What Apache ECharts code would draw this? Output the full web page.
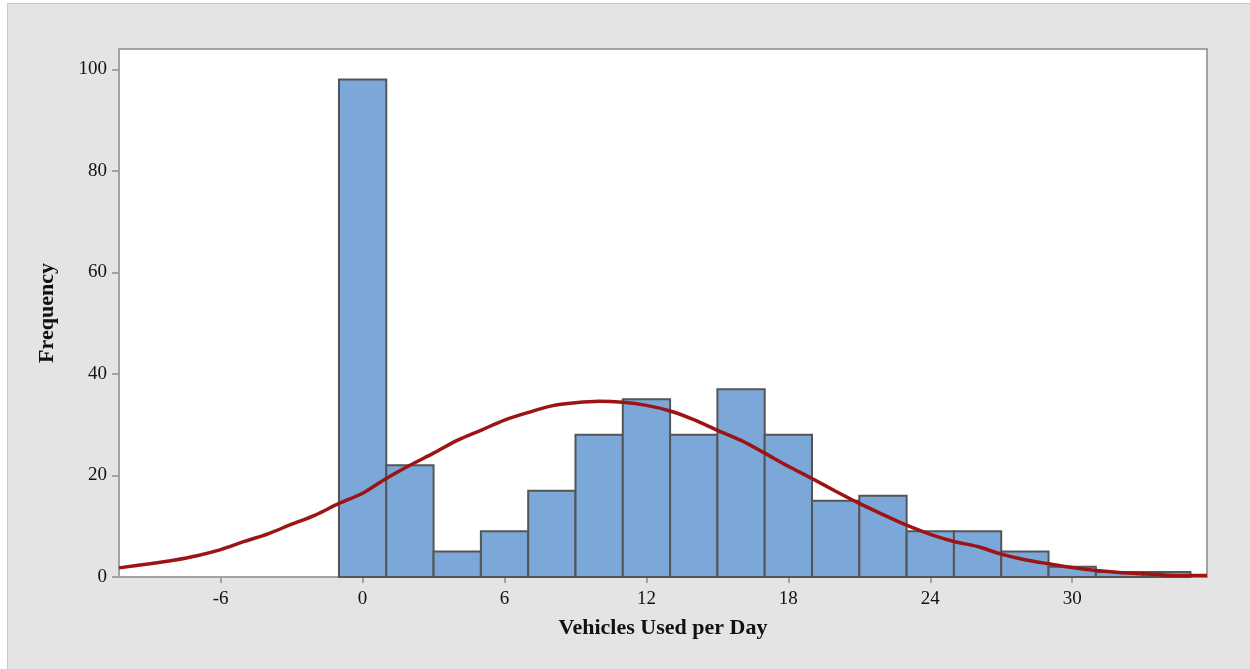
<!DOCTYPE html>
<html>
<head>
<meta charset="utf-8">
<title>Vehicles Used per Day</title>
<script src="https://cdn.jsdelivr.net/npm/echarts@6/dist/echarts.min.js"></script>
<style>
  html, body { margin: 0; padding: 0; background: #ffffff; }
  #chart { width: 1250px; height: 669px; }
</style>
</head>
<body>
<div id="chart"></div>
<script>
// ---- histogram bins (centre of each bin, width 2) ----
const binCenters = [0, 2, 4, 6, 8, 10, 12, 14, 16, 18, 20, 22, 24, 26, 28, 30, 32, 34];
const binCounts = [98, 22, 5, 9, 17, 28, 35, 28, 37, 28, 15, 16, 9, 9, 5, 2, 1, 1];
const binWidth = 2;

// ---- fitted curve ----
const curveX = [-10.3, -9, -8, -7, -6, -5, -4, -3, -2, -1, 0, 1, 2, 3, 4, 5, 6, 7, 8, 9, 10, 11, 12,
  13, 14, 15, 16, 17, 18, 19, 20, 21, 22, 23, 24, 25, 26, 27, 28, 29, 30, 31, 32, 33, 34, 35, 35.7];
const curveY = [1.8, 2.6, 3.3, 4.2, 5.4, 7.0, 8.5, 10.4, 12.2, 14.5, 16.5, 19.4, 22.0, 24.4, 26.9, 28.9,
  30.9, 32.4, 33.7, 34.3, 34.6, 34.4, 33.8, 32.7, 31.0, 28.9, 26.9, 24.4, 21.8, 19.4, 16.9, 14.5, 12.3,
  10.2, 8.4, 7.0, 6.0, 4.5, 3.4, 2.6, 1.85, 1.3, 0.9, 0.65, 0.35, 0.3, 0.3];

// ---- axis ticks ----
const xTicks = [-6, 0, 6, 12, 18, 24, 30];
const yTicks = [0, 20, 40, 60, 80, 100];

const FONT = '"Liberation Serif", "DejaVu Serif", serif';
const FRAME = '#a2a2a2';

const chart = echarts.init(document.getElementById('chart'));

const barData = binCenters.map((c, i) => [c - binWidth / 2, c + binWidth / 2, binCounts[i]]);
const lineData = curveX.map((x, i) => [x, curveY[i]]);

function renderBin(params, api) {
  const p0 = api.coord([api.value(0), api.value(2)]);
  const p1 = api.coord([api.value(1), 0]);
  return {
    type: 'rect',
    shape: { x: p0[0], y: p0[1], width: p1[0] - p0[0], height: p1[1] - p0[1] },
    style: { fill: '#7ba7d9', stroke: '#555555', lineWidth: 2 },
  };
}

chart.setOption({
  animation: false,
  backgroundColor: '#ffffff',
  graphic: [
    {
      type: 'rect',
      z: -10,
      silent: true,
      shape: { x: 7.5, y: 3.5, width: 1260, height: 700 },
      style: { fill: '#e4e4e4', stroke: '#c8c8c8', lineWidth: 1 },
    },
  ],
  grid: {
    left: 119,
    right: 43,
    top: 49,
    bottom: 92,
    show: true,
    backgroundColor: '#ffffff',
    borderColor: FRAME,
    borderWidth: 2,
  },
  xAxis: {
    type: 'value',
    min: -10.3,
    max: 35.7,
    name: 'Vehicles Used per Day',
    nameLocation: 'middle',
    nameGap: 40,
    nameTextStyle: { fontFamily: FONT, fontSize: 22, fontWeight: 'bold', color: '#111' },
    axisLine: { show: true, onZero: false, lineStyle: { color: FRAME, width: 2 } },
    axisTick: { show: true, length: 6, customValues: xTicks, lineStyle: { color: FRAME, width: 2 } },
    axisLabel: {
      fontFamily: FONT,
      fontSize: 19,
      color: '#111',
      margin: 13,
      customValues: xTicks,
    },
    splitLine: { show: false },
  },
  yAxis: {
    type: 'value',
    min: 0,
    max: 104,
    name: 'Frequency',
    nameLocation: 'middle',
    nameGap: 61,
    nameTextStyle: { fontFamily: FONT, fontSize: 22, fontWeight: 'bold', color: '#111' },
    axisLine: { show: true, onZero: false, lineStyle: { color: FRAME, width: 2 } },
    axisTick: { show: true, length: 7, customValues: yTicks, lineStyle: { color: FRAME, width: 2 } },
    axisLabel: {
      fontFamily: FONT,
      fontSize: 19,
      color: '#111',
      margin: 12,
      customValues: yTicks,
    },
    splitLine: { show: false },
  },
  series: [
    {
      name: 'Frequency',
      type: 'custom',
      renderItem: renderBin,
      encode: { x: [0, 1], y: 2 },
      data: barData,
      z: 2,
    },
    {
      name: 'Fit',
      type: 'line',
      data: lineData,
      smooth: 0.3,
      symbol: 'none',
      lineStyle: { color: '#9c1414', width: 3.5 },
      z: 3,
    },
  ],
});
</script>
</body>
</html>
